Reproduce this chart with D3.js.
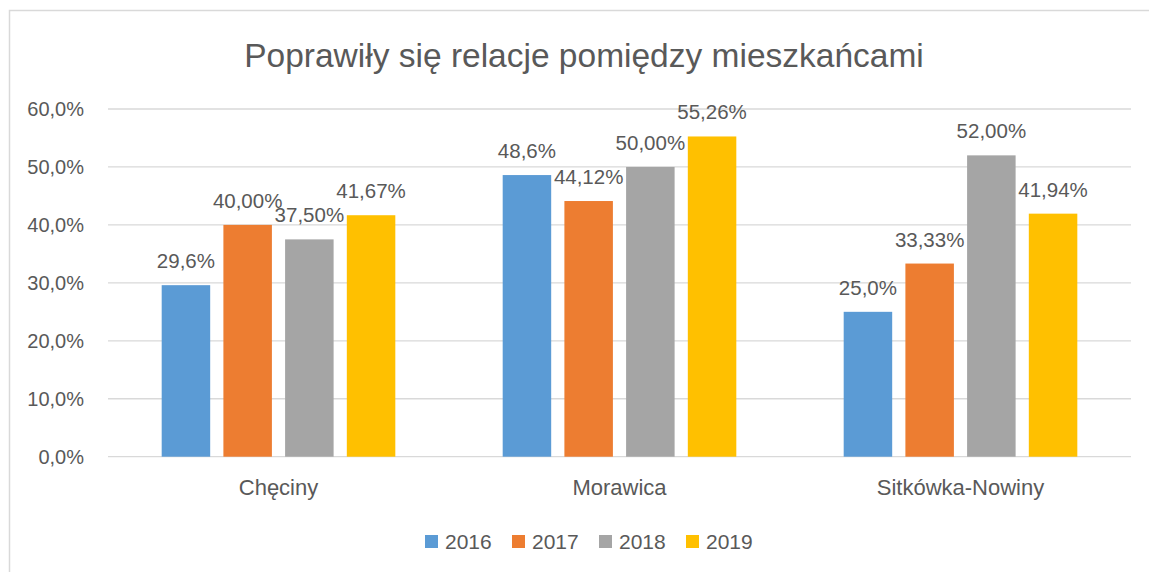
<!DOCTYPE html>
<html><head><meta charset="utf-8">
<script src="https://cdn.jsdelivr.net/npm/d3@7"></script>
<style>body{margin:0;background:#fff}svg{display:block}text{font-family:"Liberation Sans",Arial,sans-serif;fill:#595959}</style>
</head><body><svg id="c" width="1149" height="572"></svg>
<script>
const title = "Poprawiły się relacje pomiędzy mieszkańcami";
const categories = ["Chęciny", "Morawica", "Sitkówka-Nowiny"];
const series = ["2016", "2017", "2018", "2019"];
const v2016 = [29.6, 48.6, 25.0];
const v2017 = [40.00, 44.12, 33.33];
const v2018 = [37.50, 50.00, 52.00];
const v2019 = [41.67, 55.26, 41.94];
const labelDecimals = [1, 2, 2, 2];
const yTicks = [0, 10, 20, 30, 40, 50, 60];
const colors = ["#5B9BD5", "#ED7D31", "#A5A5A5", "#FFC000"];
const values = [v2016, v2017, v2018, v2019];

const svg = d3.select("#c");
const fmt = (v, d) => v.toFixed(d).replace(".", ",") + "%";

// chart border
svg.append("rect").attr("x", 9.5).attr("y", 10.5).attr("width", 1160).attr("height", 600)
  .attr("fill", "none").attr("stroke", "#D9D9D9").attr("stroke-width", 1.5);

svg.append("text").attr("x", 584).attr("y", 67).attr("text-anchor", "middle")
  .style("font-size", "33.5px").text(title);

const x0 = d3.scaleBand().domain(categories).range([108, 1131]).paddingInner(0).paddingOuter(0);
const x1 = d3.scaleBand().domain(series).range([0, x0.bandwidth()]).paddingInner(0.214).paddingOuter(0.87);
const y = d3.scaleLinear().domain([0, 60]).range([456.7, 109]);

const g = svg.append("g");
g.selectAll("line.grid").data(yTicks).join("line").attr("class", "grid")
  .attr("x1", 108).attr("x2", 1131).attr("y1", d => y(d)).attr("y2", d => y(d))
  .attr("stroke", "#D9D9D9").attr("stroke-width", 1.3);

const yAxis = d3.axisLeft(y).tickValues(yTicks).tickFormat(d => fmt(d, 1)).tickSize(0).tickPadding(0);
const ya = svg.append("g").attr("transform", "translate(84,0)").call(yAxis);
ya.select(".domain").remove();
ya.selectAll("text").style("font-size", "20px").attr("fill", "#595959").attr("font-family", null);

const rows = [];
categories.forEach((c, ci) => series.forEach((s, si) => rows.push({c, s, si, v: values[si][ci]})));

g.selectAll("rect.bar").data(rows).join("rect").attr("class", "bar")
  .attr("x", d => x0(d.c) + x1(d.s)).attr("width", x1.bandwidth())
  .attr("y", d => y(d.v)).attr("height", d => y(0) - y(d.v))
  .attr("fill", d => colors[d.si]);

g.selectAll("text.lbl").data(rows).join("text").attr("class", "lbl")
  .attr("x", d => x0(d.c) + x1(d.s) + x1.bandwidth() / 2)
  .attr("y", d => y(d.v) - 17).attr("text-anchor", "middle")
  .style("font-size", "20.5px").text(d => fmt(d.v, labelDecimals[d.si]));

const xAxis = d3.axisBottom(x0).tickSize(0).tickPadding(0);
const xa = svg.append("g").attr("transform", "translate(0,495)").call(xAxis);
xa.select(".domain").remove();
xa.selectAll("text").attr("dy", 0).style("font-size", "22px").attr("fill", "#595959").attr("font-family", null);

const legX = d3.scalePoint().domain(series).range([425, 686]);
const lg = svg.append("g").selectAll("g").data(series).join("g")
  .attr("transform", d => `translate(${legX(d)},0)`);
lg.append("rect").attr("x", 0).attr("y", 535).attr("width", 13).attr("height", 13)
  .attr("fill", (d, i) => colors[i]);
lg.append("text").attr("x", 20).attr("y", 549).style("font-size", "21px").text(d => d);
</script></body></html>
